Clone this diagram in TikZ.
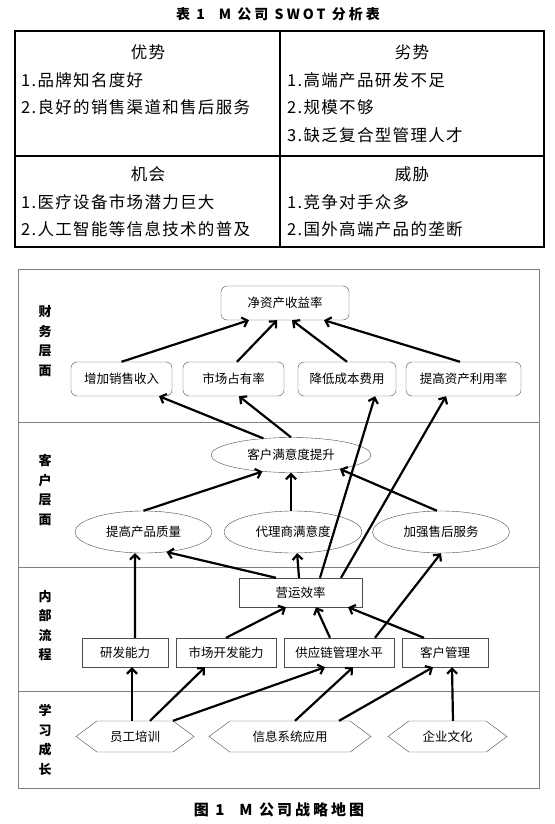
\documentclass[tikz,border=0pt]{standalone}
\usepackage{fontspec}
\setmainfont{Noto Sans CJK SC}
\usetikzlibrary{arrows.meta, shapes.geometric, shapes.symbols}

\newcommand{\swotfont}{\fontsize{16.5}{20}\selectfont\addfontfeature{LetterSpace=8}}
\newcommand{\mapfont}{\fontsize{12.5}{14}\selectfont}
\newcommand{\layerfont}{\fontsize{13}{19.5}\selectfont\bfseries}
\newcommand{\titlefont}{\fontsize{14}{16}\selectfont\bfseries\addfontfeature{LetterSpace=22}}
\newcommand{\captfont}{\fontsize{15}{17}\selectfont\bfseries\addfontfeature{LetterSpace=20}}

\begin{document}
\begin{tikzpicture}[x=1pt, y=-1pt,
    arr/.style={line width=2.2pt, -{Straight Barb[length=5pt,width=10pt]}},
    fbox/.style={draw=gray!60!black, rounded corners=6pt, minimum height=34pt, inner sep=0pt, font=\mapfont},
    cell/.style={draw=gray!60!black, ellipse, minimum height=42pt, minimum width=137pt, inner sep=0pt, font=\mapfont},
    pbox/.style={draw=gray!60!black, minimum height=29pt, inner sep=0pt, font=\mapfont},
    hexa/.style={draw=gray!60!black, signal, signal to=east and west, signal pointer angle=73, minimum height=31pt, inner sep=0pt, font=\mapfont},
    layer/.style={font=\layerfont, align=center, inner sep=0pt},
    swot/.style={anchor=west, font=\swotfont, inner sep=0pt},
    head/.style={font=\swotfont, inner sep=0pt},
  ]
    \fill[white] (0,0) rectangle (554,824);
    \useasboundingbox (0,0) rectangle (554,824);

    % 表1：SWOT 分析表
    \begin{scope}
        \node[font=\titlefont] (tabtitle) at (278,14) {表 1\quad M 公司 SWOT 分析表};
        \coordinate (TL) at (15,31);
        \coordinate (BR) at (544,247);
        \draw[line width=1.6pt] (TL) rectangle (BR);
        \draw[line width=1.2pt] (15,156) -- (544,156);
        \draw[line width=1.2pt] (280,31) -- (280,247);

        % 优势 / 劣势
        \node[head] (ys) at (148,52) {优势};
        \node[swot] (ys1) at (21,80) {1.品牌知名度好};
        \node[swot] (ys2) at (21,107) {2.良好的销售渠道和售后服务};
        \node[head] (ls) at (412,52) {劣势};
        \node[swot] (ls1) at (287,80) {1.高端产品研发不足};
        \node[swot] (ls2) at (287,107) {2.规模不够};
        \node[swot] (ls3) at (287,135) {3.缺乏复合型管理人才};

        % 机会 / 威胁
        \node[head] (jh) at (148,174) {机会};
        \node[swot] (jh1) at (21,202) {1.医疗设备市场潜力巨大};
        \node[swot] (jh2) at (21,229) {2.人工智能等信息技术的普及};
        \node[head] (wx) at (412,174) {威胁};
        \node[swot] (wx1) at (287,202) {1.竞争对手众多};
        \node[swot] (wx2) at (287,229) {2.国外高端产品的垄断};
    \end{scope}

    % 图1：战略地图
    \begin{scope}
        \draw[gray, line width=0.8pt] (18,269) rectangle (539,788);
        \draw[gray, line width=0.8pt] (18,422) -- (539,422);
        \draw[gray, line width=0.8pt] (18,567) -- (539,567);
        \draw[gray, line width=0.8pt] (18,691) -- (539,691);

        \node[layer] (cw) at (45,341) {财\\务\\层\\面};
        \node[layer] (kh) at (45,490) {客\\户\\层\\面};
        \node[layer] (nb) at (45,625.5) {内\\部\\流\\程};
        \node[layer] (xx) at (45,740) {学\\习\\成\\长};

        % 财务层面
        \node[fbox, minimum width=128pt] (jzc) at (285,303) {净资产收益率};
        \node[fbox, minimum width=101pt] (zjxs) at (121.5,379) {增加销售收入};
        \node[fbox, minimum width=101pt] (sczy) at (233.5,379) {市场占有率};
        \node[fbox, minimum width=98pt] (jdcb) at (347,379) {降低成本费用};
        \node[fbox, minimum width=115pt] (tgzc) at (463.5,379) {提高资产利用率};

        % 客户层面
        \node[cell, minimum width=160pt, minimum height=35pt] (khmy) at (291,455) {客户满意度提升};
        \node[cell] (tgzl) at (143.5,532) {提高产品质量};
        \node[cell, minimum width=138pt] (dlsmy) at (293,532) {代理商满意度};
        \node[cell] (jqsh) at (441,532) {加强售后服务};

        % 内部流程
        \node[pbox, minimum width=123pt] (yyxl) at (300.5,592.5) {营运效率};
        \node[pbox, minimum width=86pt] (yfnl) at (125,652.5) {研发能力};
        \node[pbox, minimum width=100pt] (sckf) at (226,652.5) {市场开发能力};
        \node[pbox, minimum width=110pt] (gyl) at (339,652.5) {供应链管理水平};
        \node[pbox, minimum width=86pt] (khgl) at (445,652.5) {客户管理};

        % 学习成长
        \node[hexa, minimum width=118pt] (ygpx) at (135,736.5) {员工培训};
        \node[hexa, minimum width=162pt] (xxxt) at (290,736.5) {信息系统应用};
        \node[hexa, minimum width=119pt] (qywh) at (447.5,736.5) {企业文化};

        % 财务层面内的箭头
        \draw[arr] (zjxs.north) -- ([xshift=-36pt]jzc.south);
        \draw[arr] ([xshift=3.5pt]sczy.north) -- ([xshift=-8pt]jzc.south);
        \draw[arr] (jdcb.north) -- ([xshift=7pt]jzc.south);
        \draw[arr] ([xshift=-3.5pt]tgzc.north) -- ([xshift=39pt]jzc.south);

        % 客户层面 -> 财务层面
        \draw[arr] (khmy.149) -- ([xshift=37.5pt]zjxs.south);
        \draw[arr] (khmy.north) -- ([xshift=5.5pt]sczy.south);
        \draw[arr] (tgzl.north) -- (khmy.-150);
        \draw[arr] ([xshift=-2pt]dlsmy.north) -- (khmy.south);
        \draw[arr] ([xshift=-4pt]jqsh.north) -- (khmy.-16);

        % 内部流程 -> 上层
        \draw[arr] ([xshift=19.5pt]yyxl.north) -- ([xshift=28pt]jdcb.south);
        \draw[arr] ([xshift=40.5pt]yyxl.north) -- ([xshift=-17.5pt]tgzc.south);
        \draw[arr] ([xshift=10pt]yfnl.north) -- (tgzl.-112);
        \draw[arr] ([xshift=-24.5pt]yyxl.north) -- (tgzl.-41);
        \draw[arr] ([xshift=-1.5pt]yyxl.north) -- (dlsmy.-79);
        \draw[arr] ([xshift=36pt]gyl.north) -- (jqsh.south);
        \draw[arr] (sckf.north) -- ([xshift=-14.5pt]yyxl.south);
        \draw[arr] ([xshift=-9pt]gyl.north) -- ([xshift=15.5pt]yyxl.south);
        \draw[arr] ([xshift=-21pt]khgl.north) -- ([xshift=47.5pt]yyxl.south);

        % 学习成长 -> 内部流程
        \draw[arr] ([xshift=-3pt]ygpx.north) -- ([xshift=7pt]yfnl.south);
        \draw[arr] ([xshift=15pt]ygpx.north) -- ([xshift=-21pt]sckf.south);
        \draw[arr] ([xshift=38pt]ygpx.north) -- ([xshift=-14pt]gyl.south);
        \draw[arr] ([xshift=5pt]xxxt.north) -- ([xshift=14pt]gyl.south);
        \draw[arr] ([xshift=49pt]xxxt.north) -- ([xshift=-12pt]khgl.south);
        \draw[arr] ([xshift=5.5pt]qywh.north) -- ([xshift=7pt]khgl.south);

        \node[font=\captfont] (figcap) at (279,810) {图 1\quad M 公司战略地图};
    \end{scope}
\end{tikzpicture}
\end{document}
